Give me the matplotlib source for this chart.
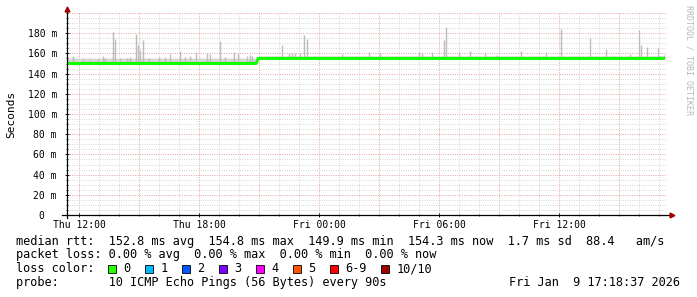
import matplotlib
matplotlib.use("Agg")
import matplotlib.pyplot as plt
from matplotlib.patches import Rectangle

# time axis in hours since Thu 00:00
x_start, x_end = 11.4, 41.4
tick_hours = [12, 18, 24, 30, 36]
tick_labels = ["Thu 12:00", "Thu 18:00", "Fri 00:00", "Fri 06:00", "Fri 12:00"]
y_ticks = [0, 20, 40, 60, 80, 100, 120, 140, 160, 180]
y_labels = ["0  ", "20 m", "40 m", "60 m", "80 m", "100 m", "120 m", "140 m", "160 m", "180 m"]

# median rtt (ms)
median_hours = [11.4, 20.85, 20.9, 20.95, 41.3]
median_ms = [150, 150, 152, 155, 155]

# base smoke band (ms)
band_hours = [11.4, 20.9, 20.95, 41.3]
band_low = [150, 150, 155, 155]
band_top = [155, 155, 157.5, 157.5]

# smoke spikes: time (h) and top (ms)
spike_hours = [11.72, 12.19, 12.55, 12.94, 13.2, 13.3, 13.69, 13.78, 14.05, 14.4,
               14.55, 14.85, 14.95, 15.03, 15.2, 15.5, 16.0, 16.3, 16.55, 17.05,
               17.3, 17.55, 17.85, 18.4, 18.55, 19.05, 19.3, 19.75, 19.95, 20.4,
               20.55, 20.65, 22.15, 22.5, 22.65, 22.8, 23.05, 23.25, 23.4, 23.75,
               24.0, 25.15, 26.5, 27.05, 27.75, 29.0, 29.15, 29.65, 30.25, 30.35,
               31.0, 31.55, 32.3, 32.9, 34.1, 35.35, 36.1, 37.55, 38.35, 38.75,
               39.55, 40.0, 40.1, 40.4, 40.95, 41.05, 41.25]
spike_top = [157, 154, 153, 154, 157, 155, 181, 174, 155, 155,
             156, 179, 168, 163, 173, 155, 156, 156, 159, 162,
             156, 157, 161, 160, 159, 172, 156, 161, 160, 157,
             158, 157, 168, 160, 160, 160, 160, 178, 174, 157,
             156, 159, 161, 160, 156, 161, 160, 161, 173, 186,
             161, 162, 160, 158, 162, 161, 184, 175, 164, 157,
             159, 183, 168, 166, 165, 157, 158]

loss_labels = ["0", "1", "2", "3", "4", "5", "6-9", "10/10"]
loss_colors = ["#26ff00", "#00b8ff", "#0059ff", "#7e00ff", "#ff00ff", "#ff5500", "#ff0000", "#a10000"]

legend_lines = [
    "median rtt:  152.8 ms avg  154.8 ms max  149.9 ms min  154.3 ms now  1.7 ms sd  88.4   am/s",
    "packet loss: 0.00 % avg  0.00 % max  0.00 % min  0.00 % now",
    "loss color:",
    "probe:       10 ICMP Echo Pings (56 Bytes) every 90s",
]
stamp = "Fri Jan  9 17:18:37 2026"

W, H = 697, 297
mono = "DejaVu Sans Mono"
plt.rcParams["font.family"] = mono
fs = 8.52

fig = plt.figure(figsize=(W / 100, H / 100), dpi=100)
ax = fig.add_axes([67 / W, (H - 215) / H, 600 / W, 202 / H])
ax.set_xlim(x_start, x_end)
ax.set_ylim(0, 200)

# grid: red dotted every 3 h / 20 ms, grey dotted every 1 h / 5 ms
for h in range(12, 42):
    major = (h % 3 == 0)
    ax.axvline(h, color="#e8a0a0" if major else "#d4d4d4", lw=0.7,
               ls=(0, (1, 1.4)), zorder=0)
for v in range(5, 201, 5):
    major = (v % 20 == 0)
    ax.axhline(v, color="#e8a0a0" if major else "#d4d4d4", lw=0.7,
               ls=(0, (1, 1.4)), zorder=0)

# smoke
ax.fill_between(band_hours, band_low, band_top, color="#d6d6d6", lw=0, zorder=1)
spike_base = [150 if h < 20.9 else 155 for h in spike_hours]
ax.vlines(spike_hours, spike_base, spike_top, color="#bcbcbc", lw=1.0, zorder=2)

# median line
ax.plot(median_hours, median_ms, color="#11ff00", lw=2.2, solid_capstyle="butt", zorder=3)

ax.set_xticks(tick_hours)
ax.set_xticklabels(tick_labels)
ax.set_yticks(y_ticks)
ax.set_yticklabels(y_labels)
ax.set_yticks(range(0, 201, 5), minor=True)
ax.set_xticks(range(12, 42), minor=True)
ax.tick_params(axis="both", labelsize=7, length=2.5, width=0.6, direction="inout")
ax.tick_params(axis="y", pad=6)
ax.tick_params(axis="x", pad=2)
ax.tick_params(axis="both", which="minor", length=1.5, width=0.5, direction="inout")
for s in ax.spines.values():
    s.set_visible(False)
ax.set_ylabel("Seconds", fontsize=8)
ax.yaxis.set_label_coords(-51 / 600, 0.5)

# axes with arrows
ax.plot([-5 / 600, 1.005], [0, 0], color="black", lw=0.9, transform=ax.transAxes, clip_on=False, zorder=5)
ax.plot([0, 0], [-3 / 202, 1.015], color="black", lw=0.9, transform=ax.transAxes, clip_on=False, zorder=5)
ax.plot([1.008], [0], marker=">", color="#a00000", ms=3.5, transform=ax.transAxes, clip_on=False, zorder=6)
ax.plot([0], [1.02], marker="^", color="#a00000", ms=3.5, transform=ax.transAxes, clip_on=False, zorder=6)

# legend text
rows_y = [241.3, 254.8, 268.5, 282.3]
for txt, yy in zip(legend_lines, rows_y):
    fig.text(16 / W, 1 - yy / H, txt, fontsize=fs, va="center", ha="left")
fig.text(680 / W, 1 - rows_y[3] / H, stamp, fontsize=fs, va="center", ha="right")

sq_x = 108.3
for lab, col in zip(loss_labels, loss_colors):
    fig.patches.append(Rectangle((sq_x / W, 1 - (rows_y[2] + 4) / H), 7.5 / W, 8 / H,
                                 transform=fig.transFigure, facecolor=col,
                                 edgecolor="black", lw=0.6))
    fig.text((sq_x + 15) / W, 1 - rows_y[2] / H, lab, fontsize=fs, va="center", ha="left")
    sq_x += 30 + 7.02 * len(lab)

fig.text(689 / W, 1 - 5 / H, "RRDTOOL / TOBI OETIKER", fontsize=6, color="#b8b8b8",
         rotation=-90, va="top", ha="center")

fig.savefig("out.png", dpi=100, facecolor="white")
